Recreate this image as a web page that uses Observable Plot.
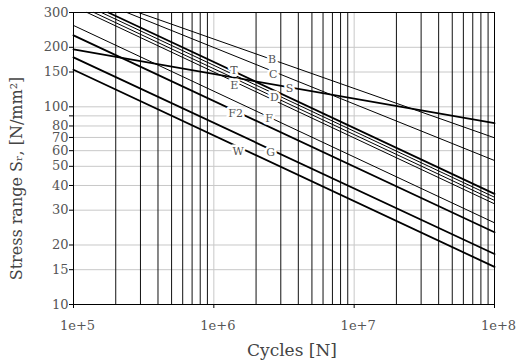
<!DOCTYPE html>
<html><head><meta charset="utf-8">
<script src="https://cdn.jsdelivr.net/npm/d3@7"></script>
<script src="https://cdn.jsdelivr.net/npm/@observablehq/plot@0.6"></script>
<style>
body{margin:0;background:#fff}
g[aria-label="y-axis tick label"]{fill:#555}
</style>
</head><body><div id="chart"></div>
<script>
// S-N curves (straight in log-log): start point and end point of each class
const seriesNames = ["B", "C", "T", "X", "D", "E", "S", "F", "F2", "G", "W"];
const startN = [2.90e5, 2.40e5, 1.77e5, 1.58e5, 1.40e5, 1.25e5, 1e5, 1e5, 1e5, 1e5, 1e5];
const startS = [300, 300, 300, 300, 300, 300, 195, 258, 230, 178, 154];
const endN   = [1e8, 1e8, 1e8, 1e8, 1e8, 1e8, 1e8, 1e8, 1e8, 1e8, 1e8];
const endS   = [69.7, 53.5, 36.3, 34.9, 33.6, 32.3, 82.6, 25.9, 23.2, 18.0, 15.5];
const thickSeries = new Set(["T", "S", "F2", "G", "W"]);

// curve labels
const labelNames = ["B", "C", "T", "E", "S", "D", "F2", "F", "W", "G"];
const labelN = [2.60e6, 2.65e6, 1.39e6, 1.40e6, 3.46e6, 2.70e6, 1.43e6, 2.47e6, 1.49e6, 2.54e6];
const labelS = [173, 145, 153, 128, 124, 112, 92.8, 86.9, 59.6, 58.9];

// axes
const yTicks = [10, 15, 20, 30, 40, 50, 60, 70, 80, 90, 100, 150, 200, 300];
const xTicks = [1e5, 1e6, 1e7, 1e8];
const xMajorGrid = [1e6, 1e7];
const xMinorGrid = [];
for (const e of [5, 6, 7]) for (let m = 2; m <= 9; m++) xMinorGrid.push(m * Math.pow(10, e));

const rows = seriesNames.flatMap((name, i) => [
  {name, N: startN[i], S: startS[i]},
  {name, N: endN[i], S: endS[i]}
]);
const labels = labelNames.map((t, i) => ({t, N: labelN[i], S: labelS[i]}));

const plot = Plot.plot({
  width: 517, height: 363,
  marginLeft: 73, marginRight: 23, marginTop: 12, marginBottom: 59,
  style: {fontFamily: "DejaVu Serif", background: "white", color: "black"},
  x: {type: "log", domain: [1e5, 1e8]},
  y: {type: "log", domain: [10, 300]},
  marks: [
    Plot.ruleY(yTicks, {stroke: "#c8c8c8"}),
    Plot.ruleX(xMajorGrid, {stroke: "#c8c8c8"}),
    Plot.ruleX(xMinorGrid, {stroke: "#111"}),
    Plot.line(rows.filter(d => !thickSeries.has(d.name)), {x: "N", y: "S", z: "name", stroke: "black", strokeWidth: 1}),
    Plot.line(rows.filter(d => thickSeries.has(d.name)), {x: "N", y: "S", z: "name", stroke: "black", strokeWidth: 1.8}),
    Plot.text(labels, {x: "N", y: "S", text: "t", fill: "#555", stroke: "white", strokeWidth: 5, fontSize: 11}),
    Plot.frame({stroke: "black"}),
    Plot.axisX({ticks: xTicks, tickSize: 4, tickFormat: () => "", label: null}),
    Plot.text(xTicks, {x: d => d, text: d => "1e+" + Math.round(Math.log10(d)), frameAnchor: "bottom", lineAnchor: "top", dy: 16, dx: 4, fontSize: 13, fill: "#555"}),
    Plot.axisY({ticks: yTicks, tickSize: 4, tickPadding: 1, tickFormat: d => String(d), label: null, fontSize: 13}),
    Plot.text(["Cycles [N]"], {frameAnchor: "bottom", lineAnchor: "middle", dy: 46, dx: 8, fontSize: 17, fill: "#444"}),
    Plot.text(["Stress range S\u1d63, [N/mm\u00b2]"], {frameAnchor: "left", textAnchor: "middle", lineAnchor: "middle", rotate: -90, dx: -57, dy: 20, fontSize: 16, fill: "#444"})
  ]
});
document.getElementById("chart").appendChild(plot);
</script>
</body></html>
